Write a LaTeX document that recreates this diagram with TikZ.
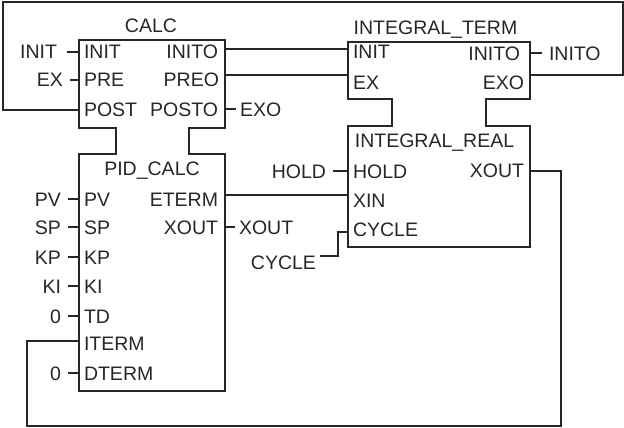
\documentclass[tikz,border=0pt]{standalone}
\usepackage{fontspec}
\setmainfont{Liberation Sans}
\begin{document}
\begin{tikzpicture}[x=1pt, y=-1pt, line width=1.2pt, color=black!85,
    every node/.style={font=\fontsize{19.5}{20}\selectfont, inner sep=0pt, outer sep=0pt, text height=14pt, text depth=0pt}]
  \tikzstyle{blk}=[minimum width=146pt, text height=0pt]
  \tikzstyle{inl}=[anchor=west, inner xsep=5pt]
  \tikzstyle{outl}=[anchor=east, inner xsep=7pt]
  \tikzstyle{src}=[anchor=east, inner xsep=7pt]
  \tikzstyle{dst}=[anchor=west, inner xsep=4pt]
  \useasboundingbox (0,0) rectangle (624,428);
  % blocks
  \node[blk, minimum height=88pt, anchor=north west] (calc) at (79,40) {};
  \node[blk, minimum height=237pt, anchor=north west] (pidcalc) at (79,154) {};
  \node[blk, minimum width=182pt, minimum height=57pt, anchor=north west] (term) at (348,42) {};
  \node[blk, minimum width=182pt, minimum height=121pt, anchor=north west] (real) at (348,126) {};
  \coordinate (la) at (116,128); \coordinate (lb) at (116,154);
  \coordinate (ra) at (189,128); \coordinate (rb) at (189,154);
  \coordinate (lc) at (392,99);  \coordinate (ld) at (392,126);
  \coordinate (rc) at (486,99);  \coordinate (rd) at (486,126);
  \draw (calc.north west) -- (calc.north east) -- (calc.south east) -- (ra) -- (rb)
    -- (pidcalc.north east) -- (pidcalc.south east) -- (pidcalc.south west)
    -- (pidcalc.north west) -- (lb) -- (la) -- (calc.south west) -- cycle;
  \draw (term.north west) -- (term.north east) -- (term.south east) -- (rc) -- (rd)
    -- (real.north east) -- (real.south east) -- (real.south west)
    -- (real.north west) -- (ld) -- (lc) -- (term.south west) -- cycle;
  % titles
  \node (calctitle) at (151,26) {CALC};
  \node (pidtitle) at (152,168) {PID\_CALC};
  \node (termtitle) at (435.5,28) {INTEGRAL\_TERM};
  \node (realtitle) at (434.5,140) {INTEGRAL\_REAL};
  % pins of CALC
  \node[inl] (calcinit) at (79,52) {INIT};
  \node[inl] (calcpre) at (79,80) {PRE};
  \node[inl] (calcpost) at (79,110) {POST};
  \node[outl] (calcinito) at (225,52) {INITO};
  \node[outl, inner xsep=6pt] (calcpreo) at (225,80) {PREO};
  \node[outl] (calcposto) at (225,109) {POSTO};
  % pins of PID_CALC
  \node[inl] (pidpv) at (79,199) {PV};
  \node[inl] (pidsp) at (79,227) {SP};
  \node[inl] (pidkp) at (79,257) {KP};
  \node[inl] (pidki) at (79,286) {KI};
  \node[inl] (pidtd) at (79,316) {TD};
  \node[inl] (piditerm) at (79,343) {ITERM};
  \node[inl] (piddterm) at (79,373) {DTERM};
  \node[outl] (pideterm) at (225,199) {ETERM};
  \node[outl] (pidxout) at (225,227) {XOUT};
  % pins of INTEGRAL_TERM
  \node[inl] (terminit) at (348,52) {INIT};
  \node[inl] (termex) at (348,82) {EX};
  \node[outl, inner xsep=10pt] (terminito) at (530,53) {INITO};
  \node[outl, inner xsep=6pt] (termexo) at (530,82) {EXO};
  % pins of INTEGRAL_REAL
  \node[inl] (realhold) at (348,171) {HOLD};
  \node[inl] (realxin) at (348,200) {XIN};
  \node[inl] (realcycle) at (348,229) {CYCLE};
  \node[outl, inner xsep=6pt] (realxout) at (530,170) {XOUT};
  % outer labels
  \node[src, inner xsep=10pt] (xinit) at (67,52) {INIT};
  \node[src] (xex) at (70,80) {EX};
  \node[src] (xpv) at (68,199) {PV};
  \node[src] (xsp) at (68,227) {SP};
  \node[src] (xkp) at (68,257) {KP};
  \node[src] (xki) at (68,286) {KI};
  \node[src] (xtd) at (68,316) {0};
  \node[src] (xdterm) at (68,373) {0};
  \node[src] (xhold) at (333,171) {HOLD};
  \node[src, inner xsep=0pt] (xcycle) at (316,262) {CYCLE};
  \node[dst] (xexo) at (236,109) {EXO};
  \node[dst] (xxout) at (235,227) {XOUT};
  \node[dst, inner xsep=7pt] (xinito) at (542,53) {INITO};
  % wire ends
  \coordinate (winito) at (225,49); \coordinate (wpreo) at (225,75);
  \coordinate (winit) at (348,49);  \coordinate (wex) at (348,75);
  \coordinate (weterm) at (225,195); \coordinate (wxin) at (348,195);
  \coordinate (wexo) at (530,75); \coordinate (wxout) at (530,171);
  \coordinate (wcycle) at (348,232); \coordinate (wbend) at (338,232);
  \coordinate (wsource) at (320,256);
  \coordinate (wpost) at (79,110); \coordinate (witerm) at (79,341);
  \coordinate (topright) at (623,2); \coordinate (topleft) at (3,2);
  \coordinate (botright) at (561,426); \coordinate (botleft) at (27,426);
  % wires
  \draw (winito) -- (winit); \draw (wpreo) -- (wex); \draw (weterm) -- (wxin);
  \draw (wsource) -| (wbend) -- (wcycle);
  \draw (wexo) -| (topright) -- (topleft) |- (wpost);
  \draw (wxout) -| (botright) -- (botleft) |- (witerm);
  % stubs
  \draw (xinit.east) -- (calcinit.west); \draw (xex.east) -- (calcpre.west);
  \draw (xpv.east) -- (pidpv.west); \draw (xsp.east) -- (pidsp.west);
  \draw (xkp.east) -- (pidkp.west); \draw (xki.east) -- (pidki.west);
  \draw (xtd.east) -- (pidtd.west); \draw (xdterm.east) -- (piddterm.west);
  \draw (xhold.east) -- (realhold.west);
  \draw (calcposto.east) -- (xexo.west); \draw (pidxout.east) -- (xxout.west);
  \draw (terminito.east) -- (xinito.west);
\end{tikzpicture}
\end{document}
